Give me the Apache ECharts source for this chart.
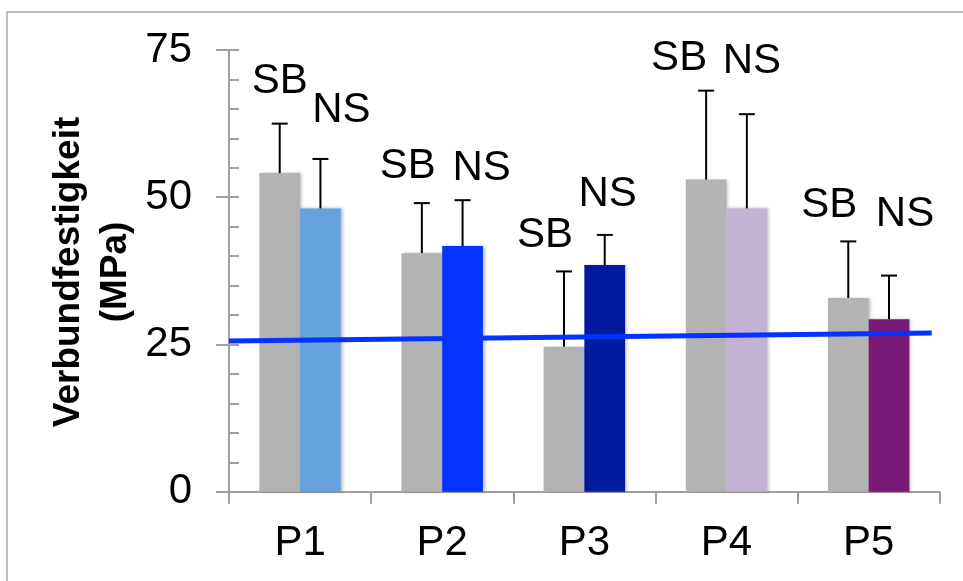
<!DOCTYPE html>
<html>
<head>
<meta charset="utf-8">
<script src="https://cdn.jsdelivr.net/npm/echarts@6/dist/echarts.min.js"></script>
<style>html,body{margin:0;padding:0;background:#fff;}#c{width:963px;height:581px;}</style>
</head>
<body>
<div id="c"></div>
<script>
// ---- data ----
var categories = ['P1', 'P2', 'P3', 'P4', 'P5'];
var sbMean = [54.1, 40.5, 24.6, 53.0, 32.9];
var sbSD   = [8.4, 8.5, 12.8, 15.1, 9.6];
var nsMean = [48.1, 41.7, 38.5, 48.1, 29.3];
var nsSD   = [8.4, 7.8, 5.1, 16.0, 7.4];
var nsColors = ['#66A2DE', '#0433FF', '#011B9F', '#C2B2D3', '#7A1A77'];
var sbColor = '#B3B3B3';
var trendX = [0, 4.944];
var trendY = [25.6, 26.95];
var yTicks = [0, 25, 50, 75];
var yTitle = 'Verbundfestigkeit\n(MPa)';
var sbText = 'SB', nsText = 'NS';
// label placement (pixels relative to error-bar top)
var sbLabDx = [0, -14, -19, -27, -19];
var sbLabDy = [27, 22, 21, 17, 21];
var nsLabDx = [21, 19, 3, 5, 16];
var nsLabDy = [34, 17, 26, 38, 46];

var FONT = '"Liberation Sans", Arial, Helvetica, sans-serif';
var FS = 42;
var GAP = 0.427;

var chart = echarts.init(document.getElementById('c'));

function errItem(which) {
  var means = which === 0 ? sbMean : nsMean;
  var sds = which === 0 ? sbSD : nsSD;
  var dxs = which === 0 ? sbLabDx : nsLabDx;
  var dys = which === 0 ? sbLabDy : nsLabDy;
  var txt = which === 0 ? sbText : nsText;
  return function (params, api) {
    var i = api.value(0);
    var band = api.size([1, 0])[0];
    var bw = band * (1 - GAP) / 2;
    var c = api.coord([i, means[i]]);
    var top = api.coord([i, means[i] + sds[i]]);
    var x = c[0] + (which === 0 ? -bw / 2 : bw / 2);
    var half = 8;
    return {
      type: 'group',
      children: [
        {type: 'line', shape: {x1: x, y1: c[1], x2: x, y2: top[1]}, style: {stroke: '#000', lineWidth: 2}},
        {type: 'line', shape: {x1: x - half, y1: top[1], x2: x + half, y2: top[1]}, style: {stroke: '#000', lineWidth: 2}},
        {type: 'text', x: x + dxs[i], y: top[1] - dys[i] - 15,
         style: {text: txt, fill: '#000', font: FS + 'px ' + FONT, textAlign: 'center', textVerticalAlign: 'middle'}}
      ]
    };
  };
}

var option = {
  animation: false,
  backgroundColor: '#fff',
  grid: {left: 229, right: 23.3, top: 50, bottom: 89.3, containLabel: false},
  xAxis: [
    {type: 'category', data: categories, boundaryGap: true,
     axisLine: {lineStyle: {color: '#A0A0A0', width: 2}},
     axisTick: {show: true, length: 12, lineStyle: {color: '#A0A0A0', width: 2}, alignWithLabel: false},
     axisLabel: {color: '#000', fontSize: FS, fontFamily: FONT, margin: 31}},
    {type: 'value', min: 0, max: 5, show: false}
  ],
  yAxis: [
    {type: 'value', min: 0, max: 75, interval: 25,
     axisLine: {show: true, lineStyle: {color: '#A0A0A0', width: 2}},
     axisTick: {show: true, length: 13, lineStyle: {color: '#A0A0A0', width: 2}},
     splitLine: {show: false},
     axisLabel: {color: '#000', fontSize: FS, fontFamily: FONT, margin: 37, padding: [6, 0, 0, 0],
       formatter: function (v) { return yTicks.indexOf(v) >= 0 ? String(v) : ''; }}},
    {type: 'value', min: 0, max: 75, interval: 5, position: 'left', offset: 0,
     axisLine: {show: false},
     axisTick: {show: true, inside: true, length: 10, lineStyle: {color: '#A0A0A0', width: 2}},
     axisLabel: {show: false}, splitLine: {show: false}}
  ],
  series: [
    {type: 'bar', name: 'SB', data: sbMean, barGap: '0%', barCategoryGap: (GAP * 100) + '%',
     itemStyle: {color: sbColor, shadowColor: 'rgba(0,0,0,0.25)', shadowBlur: 3, shadowOffsetX: 2}},
    {type: 'bar', name: 'NS', barGap: '0%', barCategoryGap: (GAP * 100) + '%',
     data: nsMean.map(function (v, i) { return {value: v, itemStyle: {color: nsColors[i]}}; }),
     itemStyle: {shadowColor: 'rgba(0,0,0,0.25)', shadowBlur: 3, shadowOffsetX: 2}},
    {type: 'custom', renderItem: errItem(0), data: categories.map(function (c, i) { return [i]; }), z: 5},
    {type: 'custom', renderItem: errItem(1), data: categories.map(function (c, i) { return [i]; }), z: 5},
    {type: 'line', xAxisIndex: 1, yAxisIndex: 0, symbol: 'none', z: 6,
     data: trendX.map(function (x, i) { return [x, trendY[i]]; }),
     lineStyle: {color: '#0433FF', width: 5}}
  ],
  graphic: [
    {type: 'rect', shape: {x: 7, y: 12, width: 1000, height: 1000}, style: {fill: 'none', stroke: '#A6A6A6', lineWidth: 1.5}, z: -1, silent: true},
    {type: 'text', x: 92.5, y: 272, rotation: Math.PI / 2,
     style: {text: yTitle, font: 'bold 37px ' + FONT, fill: '#000', textAlign: 'center', textVerticalAlign: 'middle', lineHeight: 47}}
  ]
};
chart.setOption(option);
</script>
</body>
</html>
